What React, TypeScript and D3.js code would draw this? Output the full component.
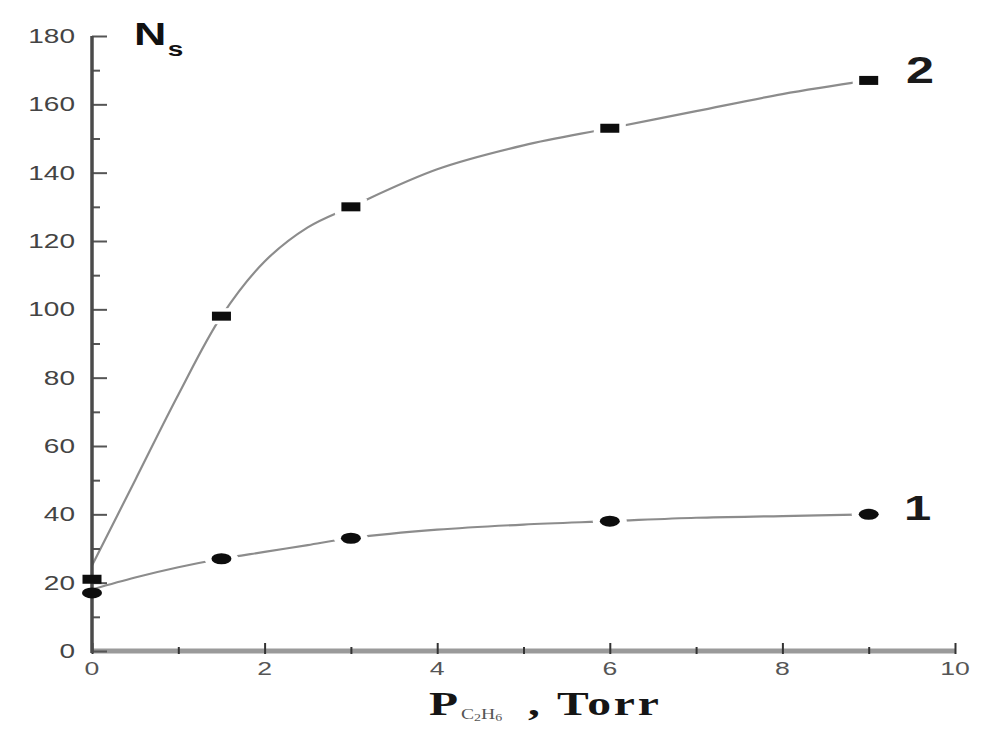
import * as d3 from "d3";
import { useEffect, useRef } from "react";

// measured points, P(C2H6) in Torr
const pressure = [0, 1.5, 3, 6, 9];
const ns1 = [17, 27, 33, 38, 40];
const ns2 = [21, 98, 130, 153, 167];

// fitted curves
const fitX = [0, 0.5, 1, 1.5, 2, 2.5, 3, 4, 5, 6, 7, 8, 9];
const fit1 = [18, 21.5, 24.5, 27, 29, 31, 33, 35.5, 37, 38, 39, 39.5, 40];
const fit2 = [25, 50, 75, 98, 114, 124, 130, 141, 148, 153, 158, 163, 167];

const yTicks = [0, 20, 40, 60, 80, 100, 120, 140, 160, 180];
const xTicks = [0, 2, 4, 6, 8, 10];

const SX = 1.4; // the scanned figure is stretched sideways

const App = () => {
  const ref = useRef<SVGSVGElement>(null);

  useEffect(() => {
    document.body.style.margin = "0";
    const svg = d3.select(ref.current);
    svg.selectAll("*").remove();

    const margin = { top: 36, left: 92 },
      width = 955 - 92,
      height = 651 - 36;

    const x = d3.scaleLinear().domain([0, 10]).range([0, width]);
    const y = d3.scaleLinear().domain([0, 180]).range([height, 0]);

    const g = svg
      .append("g")
      .attr("transform", `translate(${margin.left},${margin.top})`);

    const line = d3
      .line<number>()
      .x((_, i) => x(fitX[i]))
      .y((d) => y(d))
      .curve(d3.curveCatmullRom.alpha(0.5));

    // fitted curves
    [fit1, fit2].forEach((f) => {
      g.append("path")
        .attr("d", line(f))
        .attr("fill", "none")
        .attr("stroke", "#8c8c8c")
        .attr("stroke-width", 2.2);
    });

    // white gaps round the markers
    const halo = pressure.map((p, i) => ({ p, a: ns1[i], b: ns2[i] })).filter((d) => d.p > 0);
    g.selectAll(".halo1")
      .data(halo)
      .enter()
      .append("ellipse")
      .attr("cx", (d) => x(d.p))
      .attr("cy", (d) => y(d.a))
      .attr("rx", 17)
      .attr("ry", 9)
      .attr("fill", "#fff");
    g.selectAll(".halo2")
      .data(halo)
      .enter()
      .append("rect")
      .attr("x", (d) => x(d.p) - 16)
      .attr("y", (d) => y(d.b) - 8)
      .attr("width", 32)
      .attr("height", 16)
      .attr("fill", "#fff");

    // x axis
    g.append("line")
      .attr("x1", 0)
      .attr("x2", width)
      .attr("y1", height)
      .attr("y2", height)
      .attr("stroke", "#9a9a9a")
      .attr("stroke-width", 5);
    g.append("g")
      .attr("transform", `translate(0,${height})`)
      .call(
        d3
          .axisTop(x)
          .ticks(10)
          .tickSize(6)
          .tickFormat("" as any)
      )
      .call((a) => a.select(".domain").remove())
      .selectAll("line")
      .attr("stroke", "#333")
      .attr("stroke-width", 2)
      .attr("y2", (d: any) => (d % 2 === 0 ? -8 : -4))
      .attr("y1", 3);

    // y axis
    g.append("g")
      .call(
        d3
          .axisRight(y)
          .ticks(18)
          .tickSize(14)
          .tickFormat("" as any)
      )
      .call((a) => a.select(".domain").remove())
      .selectAll("line")
      .attr("stroke", "#555")
      .attr("stroke-width", 2)
      .attr("x2", (d: any) => (d % 20 === 0 ? 15 : 8));
    g.append("line")
      .attr("x1", 0)
      .attr("x2", 0)
      .attr("y1", 0)
      .attr("y2", height + 2)
      .attr("stroke", "#4a4a4a")
      .attr("stroke-width", 3.5);

    const stretched = (
      parent: d3.Selection<any, any, any, any>,
      px: number,
      py: number,
      txt: string,
      size: number,
      anchor: string,
      fill: string,
      family = "Liberation Sans, Arial, sans-serif",
      weight = "normal"
    ) =>
      parent
        .append("text")
        .attr("transform", `translate(${px},${py}) scale(${SX},1)`)
        .attr("text-anchor", anchor)
        .attr("font-family", family)
        .attr("font-size", size)
        .attr("font-weight", weight)
        .attr("fill", fill)
        .text(txt);

    // tick labels
    yTicks.forEach((t) => stretched(g, -17, y(t) + 7, String(t), 20, "end", "#444"));
    xTicks.forEach((t) => stretched(g, x(t), height + 24, String(t), 19, "middle", "#555"));

    // markers
    g.selectAll(".m1")
      .data(pressure)
      .enter()
      .append("ellipse")
      .attr("cx", (d) => x(d))
      .attr("cy", (_, i) => y(ns1[i]))
      .attr("rx", 10)
      .attr("ry", 5.5)
      .attr("fill", "#0d0d0d");
    g.selectAll(".m2")
      .data(pressure)
      .enter()
      .append("rect")
      .attr("x", (d) => x(d) - 9.5)
      .attr("y", (_, i) => y(ns2[i]) - 4.5)
      .attr("width", 19)
      .attr("height", 9)
      .attr("fill", "#0d0d0d");

    // curve labels
    stretched(svg, 906, 83, "2", 36, "start", "#1a1a1a", undefined, "bold");
    stretched(svg, 904, 520, "1", 35, "start", "#1a1a1a", undefined, "bold");

    // axis titles
    const ns = stretched(svg, 134, 45, "N", 32, "start", "#111", undefined, "bold");
    ns.append("tspan").attr("font-size", 20).attr("dy", 11).attr("dx", 1).text("s");

    const serif = "Liberation Serif, Times New Roman, serif";
    stretched(svg, 429, 715, "P", 34, "start", "#151515", serif, "bold");
    const sub = stretched(svg, 461, 719, "C", 14, "start", "#555", serif);
    sub.append("tspan").attr("font-size", 10).attr("dy", 2).text("2");
    sub.append("tspan").attr("font-size", 14).attr("dy", -2).text("H");
    sub.append("tspan").attr("font-size", 10).attr("dy", 2).text("6");
    stretched(svg, 528, 715, ",", 34, "start", "#151515", serif, "bold");
    stretched(svg, 557, 715, "Torr", 34, "start", "#151515", serif, "bold").attr("letter-spacing", 2);
  }, []);

  return <svg ref={ref} width={1000} height={745} style={{ display: "block", background: "#fff" }} />;
};

export default App;
